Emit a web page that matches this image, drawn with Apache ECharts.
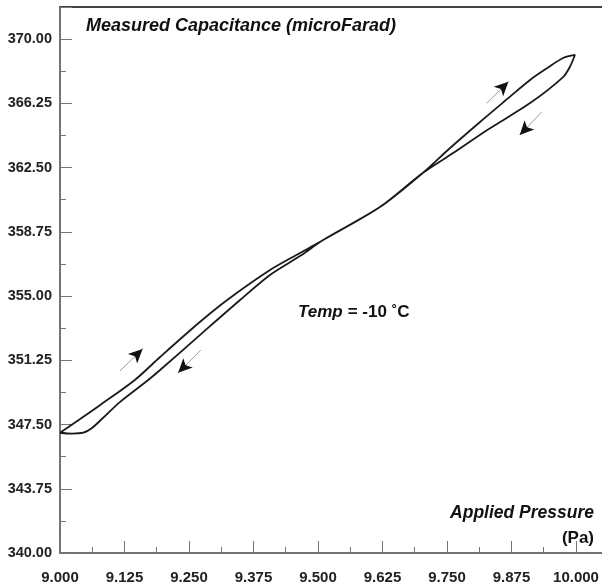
<!DOCTYPE html>
<html><head><meta charset="utf-8">
<script src="https://cdn.jsdelivr.net/npm/echarts@6/dist/echarts.min.js"></script>
<style>html,body{margin:0;padding:0;background:#fff}#c{width:602px;height:588px}</style>
</head><body><div id="c"></div>
<script>
// Forward branch (pressure increasing)
const upPressure = [9.000, 9.039, 9.078, 9.145, 9.194, 9.271, 9.324, 9.407, 9.465, 9.510, 9.620, 9.703, 9.756, 9.814, 9.862, 9.911, 9.944, 9.975, 9.998];
const upCapacitance = [347.02, 347.82, 348.64, 350.10, 351.44, 353.48, 354.77, 356.52, 357.51, 358.27, 360.19, 362.18, 363.64, 365.16, 366.38, 367.61, 368.30, 368.89, 369.07];
// Return branch (pressure decreasing)
const downPressure = [9.998, 9.988, 9.975, 9.911, 9.828, 9.765, 9.703, 9.620, 9.510, 9.465, 9.407, 9.349, 9.271, 9.194, 9.171, 9.116, 9.081, 9.062, 9.045, 9.023, 9.000];
const downCapacitance = [369.07, 368.37, 367.78, 366.26, 364.69, 363.40, 362.18, 360.19, 358.27, 357.33, 356.23, 354.77, 352.72, 350.68, 350.10, 348.81, 347.82, 347.30, 347.02, 346.97, 347.02];
// Direction arrows: [fromPressure, fromCap, toPressure, toCap]
const arrows = [
  [9.116, 350.62, 9.160, 351.91],
  [9.273, 351.85, 9.229, 350.52],
  [9.827, 366.25, 9.869, 367.51],
  [9.934, 365.76, 9.891, 364.40]
];
const xTicks = {min: 9.0, interval: 0.125};
const yTicks = {min: 340.0, interval: 3.75};
const titleText = 'Measured Capacitance (microFarad)';
const xName1 = 'Applied Pressure';
const xName2 = '(Pa)';

const loop = [];
upPressure.forEach((p, i) => loop.push([p, upCapacitance[i]]));
downPressure.forEach((p, i) => { if (i > 0) loop.push([p, downCapacitance[i]]); });

const markData = [];
arrows.forEach(a => {
  const f = 0.65;
  const mx = a[0] + (a[2] - a[0]) * f, my = a[1] + (a[3] - a[1]) * f;
  markData.push([{coord: [a[0], a[1]], symbol: 'none'}, {coord: [mx, my], symbol: 'none', lineStyle: {color: '#a0a0a0', width: 1, type: 'solid'}}]);
  markData.push([{coord: [mx, my], symbol: 'none'}, {coord: [a[2], a[3]], symbol: 'arrow', symbolSize: [10, 14], lineStyle: {color: '#111', width: 1, type: 'solid'}}]);
});

const FONT = '"Liberation Sans", Arial, sans-serif';
const chart = echarts.init(document.getElementById('c'), null, {renderer: 'canvas'});
chart.setOption({
  animation: false,
  backgroundColor: '#fff',
  grid: {left: 60, top: 7, right: 0, bottom: 35, containLabel: false},
  title: [
    {text: titleText, left: 86, top: 17, padding: 0, textStyle: {fontFamily: FONT, fontSize: 18, fontWeight: 'bold', fontStyle: 'italic', color: '#111'}},
    {text: xName1, right: 8, top: 504, padding: 0, textStyle: {fontFamily: FONT, fontSize: 17.5, fontWeight: 'bold', fontStyle: 'italic', color: '#111'}},
    {text: xName2, right: 8, top: 530, padding: 0, textStyle: {fontFamily: FONT, fontSize: 17, fontWeight: 'bold', color: '#111'}},
    {text: '{a|Temp} {b|= -10 ˚C}', left: 298, top: 303, padding: 0, textStyle: {rich: {
      a: {fontFamily: FONT, fontSize: 17, fontWeight: 'bold', fontStyle: 'italic', color: '#111'},
      b: {fontFamily: FONT, fontSize: 17, fontWeight: 'bold', color: '#111'}}}}
  ],
  xAxis: [{
    type: 'value', min: xTicks.min, max: 10.0504, interval: xTicks.interval,
    axisLine: {show: true, lineStyle: {color: '#444', width: 1.5}},
    axisTick: {show: true, inside: true, length: 12, lineStyle: {color: '#777', width: 1}},
    minorTick: {show: true, splitNumber: 2, length: 6, lineStyle: {color: '#777', width: 1}},
    splitLine: {show: false},
    axisLabel: {margin: 17, showMaxLabel: false, fontFamily: FONT, fontSize: 15, fontWeight: 'bold', color: '#222', formatter: v => v.toFixed(3)}
  }, {
    type: 'value', position: 'top', min: xTicks.min, max: 10.0504,
    axisLine: {show: true, onZero: false, lineStyle: {color: '#444', width: 2}},
    axisTick: {show: false}, axisLabel: {show: false}, splitLine: {show: false}
  }],
  yAxis: {
    type: 'value', min: yTicks.min, max: 371.87, interval: yTicks.interval,
    axisLine: {show: true, lineStyle: {color: '#444', width: 1.5}},
    axisTick: {show: true, inside: true, length: 12, lineStyle: {color: '#777', width: 1}},
    minorTick: {show: true, splitNumber: 2, length: 6, lineStyle: {color: '#777', width: 1}},
    splitLine: {show: false},
    axisLabel: {margin: 8, showMaxLabel: false, fontFamily: FONT, fontSize: 14.5, fontWeight: 'bold', color: '#222', formatter: v => v.toFixed(2)}
  },
  series: [{
    type: 'line', data: loop, showSymbol: false, smooth: 0.3,
    lineStyle: {color: '#1a1a1a', width: 1.8},
    markLine: {silent: true, symbol: ['none', 'none'], label: {show: false}, animation: false, data: markData}
  }]
});
</script></body></html>
